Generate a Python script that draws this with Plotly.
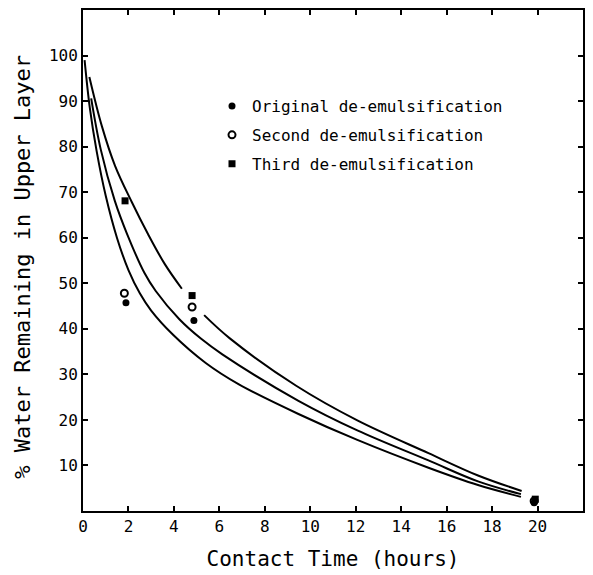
import plotly.graph_objects as go

# Curve traces
lower_x = [0.07, 0.30, 0.60, 1.00, 1.50, 2.00, 2.50, 3.00, 3.94, 5.40, 6.86, 9.48, 12.07, 15.20, 17.38, 19.27]
lower_y = [99.0, 88.5, 79.0, 69.2, 59.9, 52.9, 47.8, 44.0, 38.8, 32.5, 27.8, 21.3, 15.6, 9.5, 5.7, 3.1]

middle_x = [0.36, 0.78, 1.40, 1.95, 2.70, 3.20, 4.24, 5.20, 6.13, 9.48, 12.07, 15.20, 17.38, 19.27]
middle_y = [90.6, 79.4, 68.1, 60.7, 52.3, 48.3, 42.1, 37.8, 34.4, 24.2, 17.7, 11.1, 6.5, 3.7]

upper_x = [0.28, 0.83, 1.41, 2.14, 2.87, 3.60, 4.35, None, 5.33, 6.46, 9.38, 12.07, 15.20, 17.38, 19.30]
upper_y = [95.3, 84.5, 75.8, 67.9, 60.7, 54.2, 48.8, None, 43.0, 37.9, 27.5, 19.9, 12.7, 7.8, 4.4]

# Data points
orig_x = [1.89, 4.88, 19.85]
orig_y = [45.7, 41.8, 1.8]
second_x = [1.82, 4.80, 19.85]
second_y = [47.8, 44.8, 2.2]
third_x = [1.85, 4.80, 19.9]
third_y = [68.1, 47.3, 2.6]

x_ticks = list(range(0, 21, 2))
y_ticks = list(range(10, 101, 10))

FONT = "DejaVu Sans Mono"

fig = go.Figure()
for cx, cy in [(lower_x, lower_y), (middle_x, middle_y), (upper_x, upper_y)]:
    fig.add_trace(go.Scatter(x=cx, y=cy, mode="lines", line=dict(color="black", width=2, shape="spline", smoothing=1.0),
                             connectgaps=False, showlegend=False, hoverinfo="skip"))

fig.add_trace(go.Scatter(x=orig_x, y=orig_y, mode="markers", name="Original de-emulsification",
                         marker=dict(symbol="circle", size=7, color="black"), legendgroup="a"))
fig.add_trace(go.Scatter(x=second_x, y=second_y, mode="markers", name="Second de-emulsification",
                         marker=dict(symbol="circle-open", size=7, color="black", line=dict(width=2)), legendgroup="b"))
fig.add_trace(go.Scatter(x=third_x, y=third_y, mode="markers", name="Third de-emulsification",
                         marker=dict(symbol="square", size=7, color="black"), legendgroup="c"))

axis_common = dict(showline=True, linecolor="black", linewidth=2, mirror="ticks", ticks="inside",
                   ticklen=5, tickwidth=1.5, tickcolor="black", showgrid=False, zeroline=False,
                   tickfont=dict(family=FONT, size=16, color="black"))

fig.update_xaxes(range=[0, 22], tickvals=x_ticks, ticktext=[str(v) for v in x_ticks],
                 title=dict(text="Contact Time (hours)", font=dict(family=FONT, size=21, color="black"), standoff=16),
                 **axis_common)
fig.update_yaxes(range=[0, 110], tickvals=y_ticks, ticktext=[str(v) for v in y_ticks],
                 **axis_common)

fig.add_annotation(text="% Water Remaining in Upper Layer", xref="paper", yref="paper",
                   x=-0.1215, y=0.488, xanchor="center", yanchor="middle", textangle=-90,
                   showarrow=False, font=dict(family=FONT, size=22, color="black"))

fig.update_layout(
    width=593, height=575,
    margin=dict(l=83, r=8, t=10, b=59),
    paper_bgcolor="white", plot_bgcolor="white",
    legend=dict(x=0.258, y=0.842, xanchor="left", yanchor="top", font=dict(family=FONT, size=16, color="black"),
                bgcolor="rgba(0,0,0,0)", tracegroupgap=5, itemwidth=30),
)

fig.write_html("out.html")
